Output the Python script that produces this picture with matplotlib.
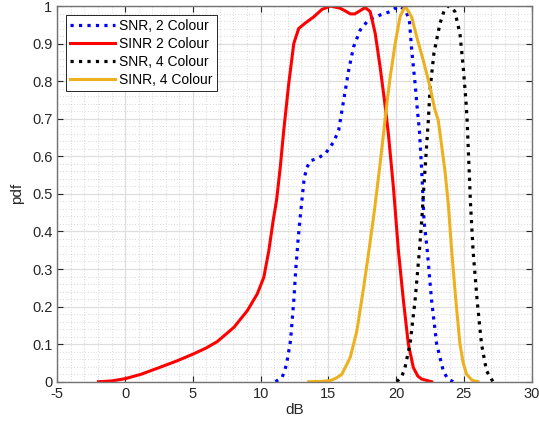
import matplotlib
matplotlib.use("Agg")
import matplotlib.pyplot as plt
from matplotlib.ticker import MultipleLocator

# values (dB, pdf)
snr2_x = [11.1, 11.6, 11.91, 12.21, 12.45, 12.6, 12.75, 12.9, 13.07, 13.2, 13.38,
          13.68, 14.17, 14.78, 15.39, 15.76, 16.13, 16.5, 16.86, 17.35, 17.96, 18.82,
          19.56, 20.17, 20.66, 20.98, 21.15, 21.4, 21.57, 21.72, 21.89, 22.06, 22.3,
          22.62, 22.99, 23.48, 23.8, 24.21]
snr2_y = [0.0, 0.012, 0.045, 0.109, 0.216, 0.30, 0.37, 0.43, 0.49, 0.535, 0.568,
          0.588, 0.594, 0.607, 0.638, 0.669, 0.749, 0.829, 0.891, 0.936, 0.963, 0.976,
          0.985, 1.0, 0.991, 0.963, 0.883, 0.794, 0.723, 0.669, 0.563, 0.429, 0.349,
          0.216, 0.101, 0.029, 0.008, 0.0]

sinr2_x = [-1.96, -1.0, 0.0, 1.2, 2.4, 3.8, 5.05, 6.0, 6.81, 8.04, 9.02, 9.76,
           10.24, 10.61, 10.93, 11.18, 11.45, 11.71, 12.08, 12.45, 12.81, 13.31,
           13.92, 14.53, 15.15, 15.88, 16.3, 16.62, 16.95, 17.23, 17.72, 18.09, 18.46,
           18.82, 19.19, 19.43, 19.8, 20.17, 20.54, 20.9, 21.27, 21.6, 21.89, 22.62]
sinr2_y = [0.0, 0.002, 0.008, 0.02, 0.036, 0.055, 0.074, 0.09, 0.107, 0.145, 0.189,
           0.234, 0.278, 0.349, 0.429, 0.483, 0.57, 0.669, 0.794, 0.90, 0.94, 0.955,
           0.971, 0.991, 1.0, 0.994, 0.986, 0.979, 0.979, 0.985, 0.996, 0.985, 0.927,
           0.838, 0.735, 0.66, 0.518, 0.349, 0.216, 0.101, 0.038, 0.015, 0.007, 0.0]

snr4_x = [20.05, 20.4, 20.66, 21.03, 21.4, 21.72, 21.89, 22.13, 22.38, 22.5, 22.79,
          23.24, 23.55, 23.85, 24.1, 24.34, 24.71, 24.95, 25.15, 25.24, 25.39, 25.49,
          25.68, 25.98, 26.3, 26.67, 27.15]
snr4_y = [0.0, 0.012, 0.038, 0.101, 0.216, 0.349, 0.429, 0.563, 0.696, 0.776, 0.874,
          0.954, 0.988, 1.0, 0.996, 0.985, 0.927, 0.838, 0.749, 0.696, 0.563, 0.474,
          0.349, 0.216, 0.101, 0.029, 0.0]

sinr4_x = [13.55, 14.5, 15.15, 15.6, 16.0, 16.62, 17.11, 17.6, 17.96, 18.38, 18.82,
           19.07, 19.32, 19.56, 19.93, 20.29, 20.66, 21.15, 21.52, 22.0, 22.5, 22.87,
           23.11, 23.6, 23.85, 24.1, 24.41, 24.71, 24.95, 25.2, 25.6, 26.05]
sinr4_y = [0.0, 0.001, 0.003, 0.01, 0.02, 0.065, 0.136, 0.25, 0.34, 0.45, 0.58,
           0.66, 0.74, 0.81, 0.90, 0.971, 1.0, 0.971, 0.918, 0.856, 0.785, 0.723,
           0.696, 0.563, 0.474, 0.349, 0.216, 0.101, 0.05, 0.02, 0.004, 0.0]

x_ticks = [-5, 0, 5, 10, 15, 20, 25, 30]
y_ticks = [0, 0.1, 0.2, 0.3, 0.4, 0.5, 0.6, 0.7, 0.8, 0.9, 1]
y_tick_labels = ["0", "0.1", "0.2", "0.3", "0.4", "0.5", "0.6", "0.7", "0.8", "0.9", "1"]

plt.rcParams["font.family"] = ["Liberation Sans", "DejaVu Sans"]
dark = (0.15, 0.15, 0.15)

fig = plt.figure(figsize=(5.39, 4.30), dpi=100)
ax = fig.add_axes([0.1063, 0.1123, 0.880, 0.8737])

ax.plot(snr2_x, snr2_y, color=(0, 0, 1), ls=":", lw=2.3, label="SNR, 2 Colour")
ax.plot(sinr2_x, sinr2_y, color=(1, 0, 0), ls="-", lw=2.2, label="SINR 2 Colour")
ax.plot(snr4_x, snr4_y, color="black", ls=":", lw=2.3, label="SNR, 4 Colour")
ax.plot(sinr4_x, sinr4_y, color=(0.929, 0.694, 0.125), ls="-", lw=2.2,
        label="SINR, 4 Colour")

ax.set_xlim(-5, 30)
ax.set_ylim(0, 1)
ax.set_xticks(x_ticks)
ax.set_xticklabels([str(t) for t in x_ticks])
ax.set_yticks(y_ticks)
ax.set_yticklabels(y_tick_labels)
ax.xaxis.set_minor_locator(MultipleLocator(1))
ax.yaxis.set_minor_locator(MultipleLocator(0.02))

# MATLAB-like look
ax.grid(True, which="major", color=(0.87, 0.87, 0.87), lw=0.9)
ax.grid(True, which="minor", color=(0.72, 0.72, 0.72), lw=0.5, ls=(0, (1, 3)))
ax.set_axisbelow(True)
for s in ax.spines.values():
    s.set_color((0.45, 0.45, 0.45))
    s.set_linewidth(1.0)
ax.tick_params(which="both", direction="in", top=True, right=True,
               colors=dark, labelsize=10.5)
ax.tick_params(which="major", length=4)
ax.tick_params(which="minor", length=0)

ax.set_xlabel("dB", fontsize=11, color=dark, labelpad=2)
ax.set_ylabel("pdf", fontsize=11, color=dark, labelpad=6)

leg = ax.legend(loc="upper left", fontsize=10, fancybox=False, framealpha=1,
                edgecolor=dark, handlelength=3.2, borderpad=0.3,
                labelspacing=0.28, handletextpad=0.3, borderaxespad=0.65)
leg.get_frame().set_linewidth(0.7)

fig.savefig("out.png", dpi=100)
